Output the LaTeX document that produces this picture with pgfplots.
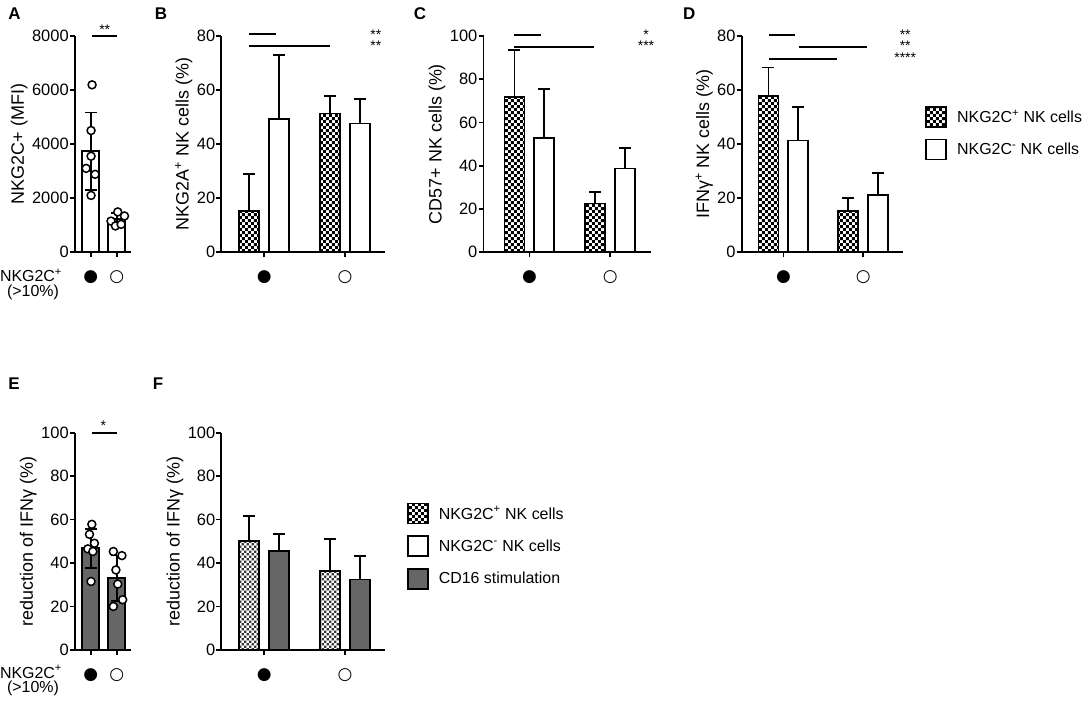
\documentclass[border=0pt]{standalone}
\usepackage{pgfplots}
\pgfplotsset{compat=1.18}
\usepackage{fontspec}
\setmainfont{Liberation Sans}
\newfontfamily\dejavu{DejaVu Sans}
\usetikzlibrary{patterns}
\pgfdeclarepatternformonly{chk}{\pgfqpoint{0pt}{0pt}}{\pgfqpoint{6pt}{6pt}}{\pgfqpoint{6pt}{6pt}}{%
  \pgfpathrectangle{\pgfqpoint{0pt}{0pt}}{\pgfqpoint{3pt}{3pt}}%
  \pgfpathrectangle{\pgfqpoint{3pt}{3pt}}{\pgfqpoint{3pt}{3pt}}%
  \pgfusepath{fill}}
\pgfdeclarepatternformonly{chkF}{\pgfqpoint{0pt}{0pt}}{\pgfqpoint{5pt}{5pt}}{\pgfqpoint{5pt}{5pt}}{%
  \pgfpathrectangle{\pgfqpoint{0.1pt}{0.1pt}}{\pgfqpoint{2.4pt}{2.4pt}}%
  \pgfpathrectangle{\pgfqpoint{2.6pt}{2.6pt}}{\pgfqpoint{2.4pt}{2.4pt}}%
  \pgfusepath{fill}}
\definecolor{barg}{RGB}{102,102,102}
\definecolor{chkg}{RGB}{55,55,55}
\newcommand{\fs}[1]{\fontsize{#1}{#1}\selectfont}
\pgfplotsset{
  prism/.style={
    scale only axis, clip=false,
    axis x line*=bottom, axis y line*=left,
    axis line style={-, line width=1.8pt},
    every tick/.style={black, line width=1.8pt},
    tick align=outside, major tick length=5pt,
    ymin=0, enlargelimits=false,
    xtick={0,1}, xticklabels={{\dejavu ●},{\dejavu ○}},
    xticklabel style={font=\fs{17}, anchor=center, yshift=-20pt},
    yticklabel style={font=\fs{16.5}, inner sep=1pt},
    ylabel style={font=\fs{18}},
    /pgf/number format/assume math mode=true,
    /pgf/number format/1000 sep={},
    scaled y ticks=false,
    legend image code/.code={\draw[##1, line width=1.8pt] (0pt,-10pt) rectangle (20pt,10pt);
      \path[draw=none, fill=none, pattern=none] (0pt,0pt) -- (29pt,0pt);},
    legend style={draw=none, fill=none, font=\fs{16}, at={(1,1)}, anchor=north west,
      xshift=22pt, yshift=-70pt, row sep=11pt, inner sep=0pt},
    legend cell align=left,
  },
  eb/.style={error bars/y dir=#1, error bars/y explicit,
    error bars/error bar style={line width=1.8pt, black, solid},
    error bars/error mark options={rotate=90, mark size=6pt, line width=1.8pt, black}},
  chkbar/.style={ybar, bar width=20pt, draw=black, line width=1.8pt, pattern=chk, pattern color=black},
  whbar/.style={ybar, bar width=20pt, draw=black, line width=1.8pt, fill=white},
  pts/.style={only marks, mark=*, mark size=4pt, mark options={fill=white, draw=black, line width=1.5pt}},
}
\begin{document}
\begin{tikzpicture}[x=1pt,y=1pt]
\path (0,0) rectangle (1084,-705);
% ---------------- A
\begin{axis}[prism, at={(72pt,-253pt)}, anchor=south west, width=56pt, height=217pt,
  xmin=-0.615, xmax=1.538, ymax=8000, ytick={0,2000,4000,6000,8000},
  ylabel={NKG2C+ (MFI)}]
\addplot[ybar, bar width=17pt, draw=black, fill=white, line width=1.8pt, eb=both]
  coordinates {(0,3730) +- (0,1440) (1,1220) +- (0,220)};
\addplot[pts] coordinates {(0.05,6190) (0.01,4500) (0.01,3550) (-0.18,3100) (0.165,2880) (0.01,2100)
  (1.04,1490) (0.78,1150) (1.30,1340) (0.95,970) (1.17,1030)};
\end{axis}
% ---------------- B
\begin{axis}[prism, at={(219pt,-253pt)}, anchor=south west, width=164pt, height=217pt,
  xmin=-0.531, xmax=1.494, ymax=80, ytick={0,20,40,60,80},
  ylabel={NKG2A\textsuperscript{+} NK cells (\%)}]
\addplot[chkbar, eb=plus] coordinates {(-0.185,15.3) +- (0,13.5) (0.815,51.3) +- (0,6.4)};
\addplot[whbar, eb=plus] coordinates {(0.185,49.4) +- (0,23.4) (1.185,47.6) +- (0,9.2)};
\end{axis}
% ---------------- C
\begin{axis}[prism, at={(482pt,-253pt)}, anchor=south west, width=168pt, height=217pt,
  xmin=-0.568, xmax=1.506, ymax=100, ytick={0,20,40,60,80,100},
  ylabel={CD57+ NK cells (\%)}]
\addplot[chkbar, eb=plus] coordinates {(-0.185,71.8) +- (0,21.8) (0.815,22.5) +- (0,5.4)};
\addplot[whbar, eb=plus] coordinates {(0.185,52.9) +- (0,22.7) (1.185,38.7) +- (0,9.6)};
\end{axis}
% ---------------- D
\begin{axis}[prism, at={(741pt,-253pt)}, anchor=south west, width=162pt, height=217pt,
  xmin=-0.525, xmax=1.5, ymax=80, ytick={0,20,40,60,80},
  ylabel={IFNγ\textsuperscript{+} NK cells (\%)}]
\addlegendimage{draw=black, pattern=chk, pattern color=black}
\addlegendentry{NKG2C\textsuperscript{+} NK cells}
\addlegendimage{draw=black, fill=white}
\addlegendentry{NKG2C\textsuperscript{-} NK cells}
\addplot[chkbar, eb=plus, forget plot] coordinates {(-0.19,57.7) +- (0,10.6) (0.81,15.1) +- (0,5.0)};
\addplot[whbar, eb=plus, forget plot] coordinates {(0.185,41.3) +- (0,12.3) (1.185,21.1) +- (0,8.2)};
\end{axis}
% ---------------- E
\begin{axis}[prism, at={(72pt,-652pt)}, anchor=south west, width=56pt, height=218pt,
  xmin=-0.615, xmax=1.538, ymax=100, ytick={0,20,40,60,80,100},
  ylabel={reduction of IFNγ (\%)}]
\addplot[ybar, bar width=17pt, draw=black, fill=barg, line width=1.8pt, eb=both]
  coordinates {(0,46.8) +- (0,9.0) (1,33.0) +- (0,10.5)};
\addplot[pts] coordinates {(0.04,57.8) (-0.05,53.2) (0.14,49.1) (-0.115,46.5) (0.08,45.3) (0.01,31.5)
  (0.87,45.3) (1.2,43.4) (0.97,36.8) (1.04,30.3) (1.23,23.1) (0.87,20.0)};
\end{axis}
% ---------------- F
\begin{axis}[prism, at={(219pt,-652pt)}, anchor=south west, width=164pt, height=218pt,
  xmin=-0.531, xmax=1.494, ymax=100, ytick={0,20,40,60,80,100},
  ylabel={reduction of IFNγ (\%)}]
\addlegendimage{draw=black, pattern=chk, pattern color=black}
\addlegendentry{NKG2C\textsuperscript{+} NK cells}
\addlegendimage{draw=black, fill=white}
\addlegendentry{NKG2C\textsuperscript{-} NK cells}
\addlegendimage{draw=black, fill=barg}
\addlegendentry{CD16 stimulation}
\addplot[ybar, bar width=20pt, draw=black, line width=1.8pt, pattern=chkF, pattern color=chkg, eb=plus, forget plot]
  coordinates {(-0.185,50.1) +- (0,11.7) (0.815,36.4) +- (0,14.5)};
\addplot[ybar, bar width=20pt, draw=black, line width=1.8pt, fill=barg, eb=plus, forget plot]
  coordinates {(0.185,45.7) +- (0,7.5) (1.185,32.4) +- (0,11.0)};
\end{axis}
% ---------------- significance annotations
\begin{scope}[line width=1.8pt]
\draw (89,-36) -- (114,-36);
\draw (247,-34) -- (274,-34);
\draw (247,-46) -- (328,-46);
\draw (513,-35) -- (540,-35);
\draw (513,-47) -- (593,-47);
\draw (768,-35) -- (794,-35);
\draw (798,-47) -- (867,-47);
\draw (768,-59) -- (837,-59);
\draw (89,-434) -- (114,-434);
\end{scope}
\begin{scope}[every node/.style={font=\fontsize{14}{11.5}\selectfont, inner sep=0pt, anchor=north, align=center}]
\node at (102,-25) {**};
\node at (374,-29.5) {**\\**};
\node at (645,-29.5) {*\\***};
\node at (905,-29.5) {**\\**\\****};
\node at (100.5,-422) {*};
\end{scope}
% ---------------- panel letters
\begin{scope}[every node/.style={font=\bfseries\fs{17}, inner sep=0pt, anchor=base west}]
\node at (5,-20) {A};
\node at (152,-20) {B};
\node at (412,-20) {C};
\node at (682,-20) {D};
\node at (5,-391) {E};
\node at (150,-391) {F};
\end{scope}
% ---------------- group labels
\begin{scope}[every node/.style={font=\fs{16}, inner sep=0pt, anchor=center}]
\node at (28,-276) {NKG2C\textsuperscript{+}};
\node at (30,-293) {(>10\%)};
\node at (28,-674) {NKG2C\textsuperscript{+}};
\node at (30,-691) {(>10\%)};
\end{scope}
\end{tikzpicture}
\end{document}
